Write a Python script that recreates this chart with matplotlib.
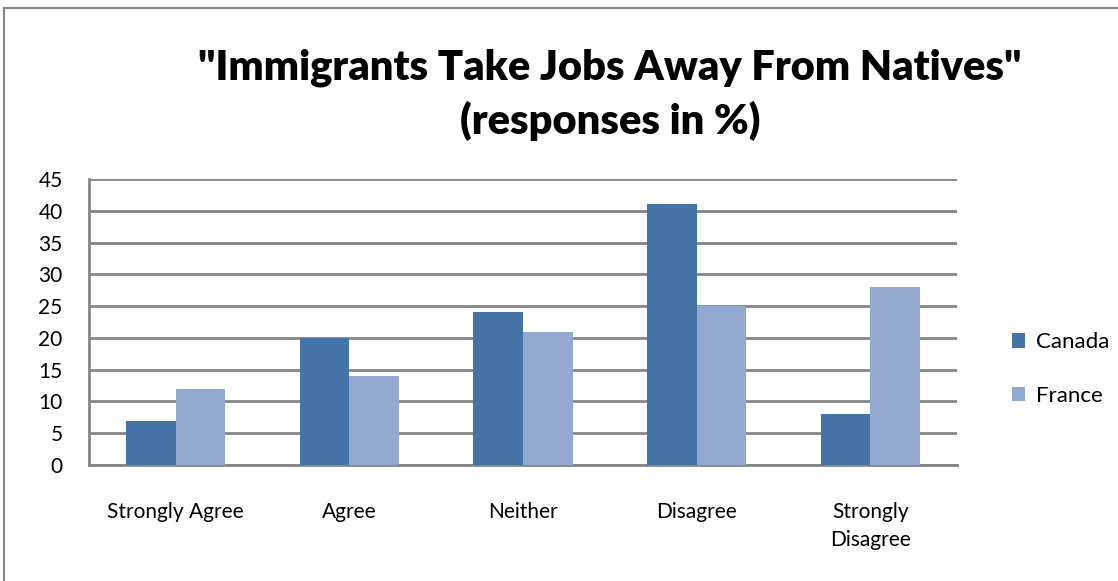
import numpy as np
import matplotlib.pyplot as plt
from matplotlib.lines import Line2D

categories = ["Strongly Agree", "Agree", "Neither", "Disagree", "Strongly\nDisagree"]
canada = [7, 20, 24, 41, 8]
france = [12, 14, 21, 25, 28]
yticks = [0, 5, 10, 15, 20, 25, 30, 35, 40, 45]

plt.rcParams['font.family'] = ['Lato', 'DejaVu Sans']

fig = plt.figure(figsize=(11.18, 5.81), dpi=100)
W, H = 1118, 581
# plot area in pixels: left 89, right 957, top 179, bottom 465
ax = fig.add_axes([89 / W, 1 - 465 / H, (957 - 89) / W, (465 - 179) / H])

x = np.arange(len(categories))
bw = 1 / 3.5
ax.bar(x - bw / 2, canada, bw, color="#4572A7", label="Canada", zorder=3)
ax.bar(x + bw / 2, france, bw, color="#94A9CF", label="France", zorder=3)

ax.set_xlim(-0.5, len(categories) - 0.5)
ax.set_ylim(0, 45)
ax.set_yticks(yticks)
ax.set_xticks(x)
ax.set_xticklabels(categories, fontsize=15, linespacing=1.45, va="top")
ax.tick_params(axis="both", length=0)
ax.tick_params(axis="y", labelsize=15, pad=19)
ax.tick_params(axis="x", pad=27)
ax.yaxis.grid(True, color="#868686", linewidth=2, zorder=0)
for s in ["top", "right"]:
    ax.spines[s].set_visible(False)
for s in ["left", "bottom"]:
    ax.spines[s].set_color("#868686")
    ax.spines[s].set_linewidth(2)

fig.text(610 / W, 1 - 68 / H, '"Immigrants Take Jobs Away From Natives"',
         ha="center", va="center", fontsize=30, fontweight="heavy")
fig.text(610 / W, 1 - 121 / H, "(responses in %)",
         ha="center", va="center", fontsize=30, fontweight="heavy")

ax.legend(loc="center left", bbox_to_anchor=(992 / W, 1 - 369 / H),
          bbox_transform=fig.transFigure, frameon=False, fontsize=16,
          handlelength=0.6, handleheight=0.6, labelspacing=1.5, handletextpad=0.5)

# chart frame
fig.add_artist(Line2D([4 / W, 4 / W], [0, 1 - 8 / H], color="#868686", lw=1.5))
fig.add_artist(Line2D([4 / W, 1], [1 - 8 / H, 1 - 8 / H], color="#868686", lw=1.5))

fig.savefig("out.png", dpi=100)
